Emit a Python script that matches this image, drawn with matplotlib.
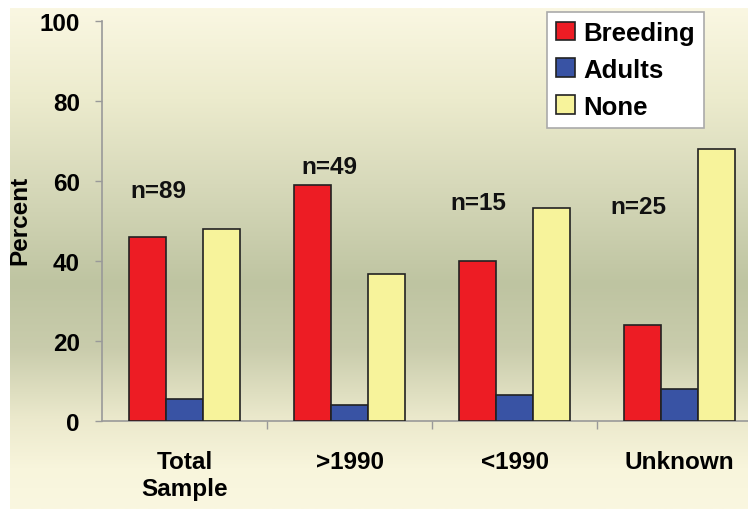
import numpy as np
import matplotlib
matplotlib.use('Agg')
import matplotlib.pyplot as plt
from matplotlib.colors import LinearSegmentedColormap

# data
groups = ['Total\nSample', '>1990', '<1990', 'Unknown']
series = ['Breeding', 'Adults', 'None']
breeding = [46, 59, 40, 24]
adults = [5.5, 4, 6.5, 8]
none = [48, 36.7, 53.3, 68]
n_labels = ['n=89', 'n=49', 'n=15', 'n=25']
n_pos_y = [57.5, 63.5, 54.5, 53.5]
n_off_x = [-0.16, -0.12, -0.22, -0.25]

colors = ['#ed1c24', '#3953a4', '#f7f39b']

plt.rcParams['font.family'] = 'Liberation Sans'
plt.rcParams['font.weight'] = 'bold'

W, H = 748, 510
fig = plt.figure(figsize=(W / 100, H / 100), dpi=100)
fig.patch.set_facecolor('white')

# vertical gradient backdrop
bg = fig.add_axes([10 / W, 0, 1 - 10 / W, 1 - 9 / H])
bg.set_axis_off()
cmap = LinearSegmentedColormap.from_list('bg', [
    (0.00, '#faf7e2'),
    (0.18, '#ecebcd'),
    (0.36, '#d6d8b9'),
    (0.55, '#bec4a1'),
    (0.68, '#c9ccac'),
    (0.82, '#ebe9cc'),
    (0.92, '#f8f5dc'),
    (1.00, '#faf7e0'),
])
grad = np.linspace(0, 1, 256).reshape(-1, 1)
bg.imshow(grad, aspect='auto', cmap=cmap, extent=[0, 1, 0, 1], origin='upper')

ax = fig.add_axes([102 / W, 1 - 422 / H, 1 - 102 / W, (422 - 22) / H])
ax.patch.set_alpha(0)

x = np.arange(len(groups))
w = 0.224
for i, (vals, c, lab) in enumerate(zip([breeding, adults, none], colors, series)):
    ax.bar(x + (i - 1) * w, vals, width=w, color=c, edgecolor='#222222',
           linewidth=1.2, label=lab, zorder=3)

for i, t in enumerate(n_labels):
    ax.text(x[i] + n_off_x[i], n_pos_y[i], t, ha='center', va='center',
            fontsize=17.5, fontweight='bold', color='#111111')

ax.set_ylim(0, 100)
ax.set_xlim(-0.5, 3.415)
ax.set_yticks([0, 20, 40, 60, 80, 100])
ax.tick_params(axis='y', labelsize=17.5, length=5, width=1, color='#999999', pad=11)

ax.set_xticks(x)
ax.set_xticklabels(groups, fontsize=17.5, fontweight='bold')
ax.tick_params(axis='x', which='major', length=0, pad=21)
ax.set_xticks([0.5, 1.5, 2.5], minor=True)
ax.tick_params(axis='x', which='minor', length=6, width=1, color='#999999')

for s in ['top', 'right']:
    ax.spines[s].set_visible(False)
for s in ['left', 'bottom']:
    ax.spines[s].set_color('#999999')
    ax.spines[s].set_linewidth(1.2)

fig.text(20 / W, 1 - 220 / H, 'Percent', rotation=90, ha='center', va='center',
         fontsize=17.5, fontweight='bold')

leg = ax.legend(loc='upper left', bbox_to_anchor=(547 / W, 1 - 13 / H),
                bbox_transform=fig.transFigure, fontsize=18.5, frameon=True,
                fancybox=False, framealpha=1, edgecolor='#aaaaaa',
                handlelength=0.75, handleheight=0.75, handletextpad=0.3,
                labelspacing=0.5, borderpad=0.35, borderaxespad=0)
leg.get_frame().set_linewidth(1.2)

fig.savefig('out.png', dpi=100, facecolor=fig.get_facecolor())
